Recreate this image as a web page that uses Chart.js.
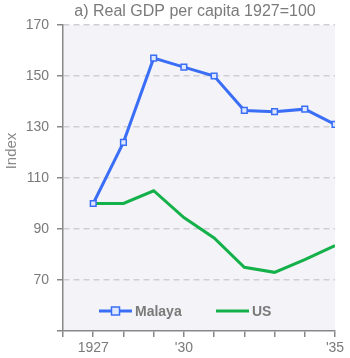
<!DOCTYPE html>
<html><head><meta charset="utf-8">
<script src="https://cdn.jsdelivr.net/npm/chart.js@4/dist/chart.umd.min.js"></script>
<style>html,body{margin:0;padding:0;background:#fff}#wrap{width:350px;height:358px;position:relative}</style>
</head><body><div id="wrap"><canvas id="c" width="350" height="358"></canvas></div>
<script>
const years = [1927, 1928, 1929, 1930, 1931, 1932, 1933, 1934, 1935];
const malaya = [100, 124, 157, 153.5, 150, 136.5, 136, 137, 131];
const us = [100, 100, 105, 94.5, 86.5, 75, 73, 78, 83.5];
const yTicks = [70, 90, 110, 130, 150, 170];
const xTickLabels = {1927: '1927', 1930: "'30", 1935: "'35"};
const titleText = 'a) Real GDP per capita 1927=100';
const yTitle = 'Index';
const seriesNames = ['Malaya', 'US'];

const FONT = '"Liberation Sans", Arial, sans-serif';
const GRAY = '#7a7a7a';

const bgPlugin = {
  id: 'bg',
  beforeDraw(chart) {
    const {ctx, chartArea: a} = chart;
    ctx.save();
    ctx.fillStyle = '#f4f4f8';
    ctx.fillRect(a.left, a.top, a.right - a.left, a.bottom - a.top);
    ctx.restore();
  },
  afterDraw(chart) {
    const {ctx} = chart;
    ctx.save();
    ctx.fillStyle = GRAY;
    ctx.font = '16px ' + FONT;
    ctx.textAlign = 'center';
    ctx.textBaseline = 'middle';
    ctx.fillText(titleText, 195, 12);
    ctx.save();
    ctx.translate(12, 151);
    ctx.rotate(-Math.PI / 2);
    ctx.font = '15px ' + FONT;
    ctx.fillStyle = '#888';
    ctx.fillText(yTitle, 0, 0);
    ctx.restore();
    const ly = 311;
    const ds = chart.data.datasets;
    const items = [{x: 99, ds: ds[0]}, {x: 216, ds: ds[1]}];
    ctx.font = 'bold 14px ' + FONT;
    ctx.textAlign = 'left';
    items.forEach(it => {
      ctx.strokeStyle = it.ds.borderColor;
      ctx.lineWidth = 3;
      ctx.beginPath();
      ctx.moveTo(it.x, ly);
      ctx.lineTo(it.x + 33, ly);
      ctx.stroke();
      if (it.ds.pointRadius > 0) {
        ctx.fillStyle = it.ds.pointBackgroundColor;
        ctx.lineWidth = 1.5;
        ctx.fillRect(it.x + 12.5, ly - 4, 8, 8);
        ctx.strokeRect(it.x + 12.5, ly - 4, 8, 8);
      }
      ctx.fillStyle = GRAY;
      ctx.fillText(it.ds.label, it.x + 36, ly + 1);
    });
    ctx.restore();
  }
};

new Chart(document.getElementById('c'), {
  type: 'line',
  data: {
    datasets: [
      {
        label: seriesNames[0],
        data: years.map((y, i) => ({x: y, y: malaya[i]})),
        borderColor: '#3b6ef6',
        borderWidth: 3,
        pointStyle: 'rect',
        pointRadius: 4,
        pointBorderWidth: 1.5,
        pointBorderColor: '#3b6ef6',
        pointBackgroundColor: '#dfe7fd',
        tension: 0
      },
      {
        label: seriesNames[1],
        data: years.map((y, i) => ({x: y, y: us[i]})),
        borderColor: '#14b04a',
        borderWidth: 3,
        pointRadius: 0,
        tension: 0
      }
    ]
  },
  options: {
    responsive: false,
    animation: false,
    layout: {padding: {top: 25, right: 15, left: 0, bottom: 0}},
    plugins: {legend: {display: false}, title: {display: false}, tooltip: {enabled: false}},
    scales: {
      x: {
        type: 'linear',
        min: 1926, max: 1935,
        afterBuildTicks(scale) { scale.ticks = []; for (let v = 1926; v <= 1935; v++) scale.ticks.push({value: v}); },
        afterFit(scale) { scale.height = 27; },
        ticks: {
          autoSkip: false, maxRotation: 0, padding: 3,
          color: GRAY, font: {family: FONT, size: 14},
          callback: v => xTickLabels[v] || ''
        },
        grid: {drawOnChartArea: false, drawTicks: true, tickLength: 6, color: '#888', lineWidth: 1.5},
        border: {display: true, color: '#888', width: 1.5}
      },
      y: {
        min: 50, max: 170,
        afterBuildTicks(scale) { scale.ticks = [{value: 50}].concat(yTicks.map(v => ({value: v}))); },
        afterFit(scale) { scale.width = 63; },
        ticks: {
          padding: 8, color: GRAY, font: {family: FONT, size: 14},
          callback: v => yTicks.includes(v) ? String(v) : ''
        },
        grid: {
          drawTicks: true, tickLength: 6,
          color: ctx => ctx.tick && ctx.tick.value === 50 ? 'rgba(0,0,0,0)' : '#cfcfd3',
          tickColor: '#888',
          lineWidth: 1.5
        },
        border: {display: true, color: '#888', width: 1.5, dash: [6, 4]}
      }
    }
  },
  plugins: [bgPlugin]
});
</script></body></html>
